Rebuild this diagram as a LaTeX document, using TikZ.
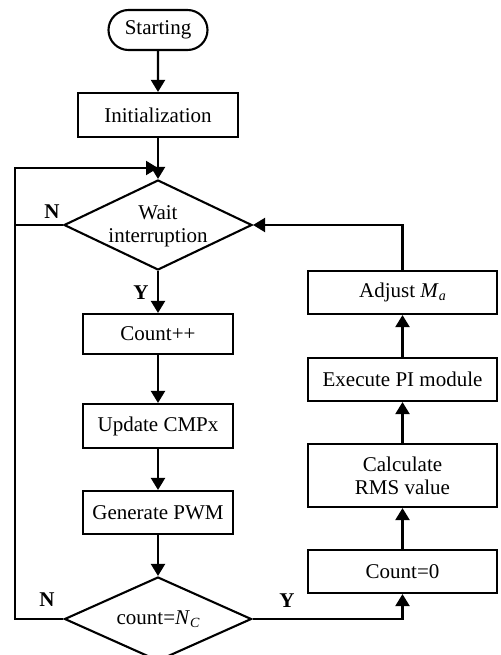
\documentclass[tikz,border=0pt]{standalone}
\usepackage{fontspec}
\setmainfont{Liberation Serif}
\usetikzlibrary{shapes.misc,shapes.geometric,arrows.meta}
\newcommand\lowsub[1]{\raisebox{-0.35ex}{\fontsize{14}{14}\selectfont\itshape #1}}
\begin{document}
\begin{tikzpicture}[x=1pt,y=-1pt,
  every node/.style={font=\fontsize{21}{23}\selectfont},
  box/.style={draw,line width=2.1pt,rectangle,inner sep=0pt,align=center},
  pill/.style={draw,line width=2.1pt,rounded rectangle,inner sep=0pt,minimum width=99pt,minimum height=40pt},
  dia/.style={draw,line width=2.1pt,diamond,inner sep=0pt},
  flow/.style={line width=2.1pt,-{Triangle[length=12pt,width=14pt]}},
  plain/.style={line width=2.1pt},
  yn/.style={font=\fontsize{21}{23}\selectfont\bfseries}]
\clip (0,0) rectangle (500,655);
\node[pill] (start) at (158,30) {Starting};
\node[box,minimum width=160pt,minimum height=44pt] (init) at (158,115) {Initialization};
\node[dia,minimum width=188pt,minimum height=90pt] (wait) at (158,225) {};
\node[align=center,inner sep=0pt] (waittxt) at (158,226) {Wait\\interruption};
\node[box,minimum width=150pt,minimum height=40pt] (cpp) at (158,334) {Count++};
\node[box,minimum width=150pt,minimum height=44pt] (upd) at (158,426) {Update CMPx};
\node[box,minimum width=150pt,minimum height=43pt] (pwm) at (158,512.5) {Generate PWM};
\node[dia,minimum width=187pt,minimum height=84pt] (cnt) at (158,619) {};
\node[inner sep=0pt] (cnttxt) at (158,619) {count=\textit{N}\lowsub{C}};
\node[box,minimum width=189pt,minimum height=43pt] (zero) at (402.5,571.5) {Count=0};
\node[box,minimum width=189pt,minimum height=63pt] (rms) at (402.5,475.5) {Calculate\\RMS value};
\node[box,minimum width=189pt,minimum height=43pt] (pi) at (402.5,379.5) {Execute PI module};
\node[box,minimum width=189pt,minimum height=43pt] (adj) at (402.5,292.5) {Adjust \textit{M}\lowsub{a}};
\coordinate (top) at (158,168);
\coordinate (lw) at (15,225);
\coordinate (lc) at (15,619);
\node[yn] (n1) at (52,212) {N};
\node[yn] (y1) at (141,293) {Y};
\node[yn] (n2) at (47,600) {N};
\node[yn] (y2) at (287,601) {Y};
\draw[flow] (start) -- (init);
\draw[flow] (init) -- (wait.north);
\draw[flow] (wait.south) -- (cpp);
\draw[flow] (cpp) -- (upd);
\draw[flow] (upd) -- (pwm);
\draw[flow] (pwm) -- (cnt.north);
\draw[plain] (wait.west) -- (lw);
\draw[flow] (cnt.west) -- (lc) |- (top);
\draw[flow] (cnt.east) -| (zero.south);
\draw[flow] (zero) -- (rms);
\draw[flow] (rms) -- (pi);
\draw[flow] (pi) -- (adj);
\draw[flow] (adj.north) |- (wait.east);
\end{tikzpicture}
\end{document}
